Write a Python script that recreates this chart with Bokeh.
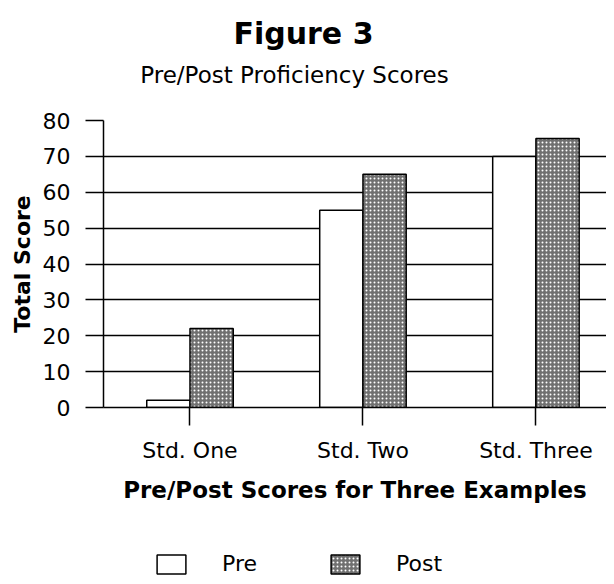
from bokeh.plotting import figure
from bokeh.layouts import column
from bokeh.models import Range1d, FixedTicker, Legend, LegendItem, Label
from bokeh.transform import dodge
from bokeh.embed import file_html
from bokeh.resources import INLINE

categories = ["Std. One", "Std. Two", "Std. Three"]
pre_scores = [2, 55, 70]
post_scores = [22, 65, 75]
y_ticks = [0, 10, 20, 30, 40, 50, 60, 70, 80]
series_names = ["Pre", "Post"]

positions = [i + 0.5 for i in range(len(categories))]
source = dict(x=positions, pre=pre_scores, post=post_scores)

FONT = "DejaVu Sans"
W = 606
PRE_STYLE = dict(fill_color="white", line_color="black", line_width=1.5)
POST_STYLE = dict(fill_color="#707070", line_color="black", line_width=1.5,
                  hatch_pattern="dot", hatch_color="white", hatch_scale=4, hatch_weight=1)


def blank_figure(height):
    f = figure(width=W, height=height, output_backend="svg", toolbar_location=None,
               title=None, x_axis_type=None, y_axis_type=None,
               x_range=Range1d(0, 1), y_range=Range1d(0, 1),
               min_border_left=0, min_border_right=0, min_border_top=0,
               min_border_bottom=0)
    f.outline_line_color = None
    f.background_fill_color = "white"
    f.border_fill_color = "white"
    f.grid.grid_line_color = None
    return f


# ---- title strip (its frame is aligned with the chart's frame, which starts at x=103) ----
TH = 100
head = blank_figure(TH)
head.add_layout(Label(x=200, y=TH - 33, x_units="screen", y_units="screen",
                      text="Figure 3", text_font=FONT, text_font_style="bold",
                      text_font_size="30px", text_align="center",
                      text_baseline="alphabetic", text_color="black"))
head.add_layout(Label(x=191, y=TH - 74, x_units="screen", y_units="screen",
                      text="Pre/Post Proficiency Scores", text_font=FONT,
                      text_font_size="23px", text_align="center",
                      text_baseline="alphabetic", text_color="black"))

# ---- main chart ----
p = figure(width=W, height=405, output_backend="svg", toolbar_location=None,
           title=None,
           x_range=Range1d(0, 2.908), y_range=Range1d(0, 80),
           min_border_left=103, min_border_right=0, min_border_top=20,
           min_border_bottom=0)
p.outline_line_color = None
p.background_fill_color = "white"
p.border_fill_color = "white"

p.vbar(x=dodge("x", -0.125, range=p.x_range), top="pre", width=0.25,
       source=source, **PRE_STYLE)
p.vbar(x=dodge("x", 0.125, range=p.x_range), top="post", width=0.25,
       source=source, **POST_STYLE)

p.xgrid.grid_line_color = None
p.ygrid.grid_line_color = "black"
p.ygrid.grid_line_width = 1.5
p.ygrid.ticker = FixedTicker(ticks=y_ticks)

p.yaxis.ticker = FixedTicker(ticks=y_ticks)
p.yaxis.axis_label = "Total Score"
p.yaxis.axis_label_text_font = FONT
p.yaxis.axis_label_text_font_style = "bold"
p.yaxis.axis_label_text_font_size = "22px"
p.yaxis.axis_label_text_color = "black"
p.yaxis.axis_label_standoff = 5
p.yaxis.major_label_text_font = FONT
p.yaxis.major_label_text_font_size = "22px"
p.yaxis.major_label_text_color = "black"
p.yaxis.major_label_standoff = 15
p.yaxis.major_tick_out = 18
p.yaxis.major_tick_in = 0
p.yaxis.minor_tick_line_color = None
p.yaxis.axis_line_color = "black"
p.yaxis.axis_line_width = 1.5
p.yaxis.major_tick_line_width = 1.5

p.xaxis.ticker = FixedTicker(ticks=positions)
p.xaxis.major_label_overrides = {pos: c for pos, c in zip(positions, categories)}
p.xaxis.axis_label = "Pre/Post Scores for Three Examples"
p.xaxis.axis_label_text_font = FONT
p.xaxis.axis_label_text_font_style = "bold"
p.xaxis.axis_label_text_font_size = "23px"
p.xaxis.axis_label_text_color = "black"
p.xaxis.axis_label_standoff = 11
p.xaxis.major_label_text_font = FONT
p.xaxis.major_label_text_font_size = "22px"
p.xaxis.major_label_text_color = "black"
p.xaxis.major_label_standoff = 12
p.xaxis.major_tick_out = 18
p.xaxis.major_tick_in = 0
p.xaxis.minor_tick_line_color = None
p.xaxis.axis_line_color = "black"
p.xaxis.axis_line_width = 1.5
p.xaxis.major_tick_line_width = 1.5

# ---- legend strip (hidden copies of the bar renderers supply the legend swatches) ----
leg = blank_figure(71)
pre_leg = leg.vbar(x="x", top="pre", width=0.25, source=source, visible=False, **PRE_STYLE)
post_leg = leg.vbar(x="x", top="post", width=0.25, source=source, visible=False, **POST_STYLE)
legend = Legend(items=[LegendItem(label=series_names[0], renderers=[pre_leg]),
                       LegendItem(label=series_names[1], renderers=[post_leg])],
                location=(50, 0), orientation="horizontal",
                glyph_width=36, glyph_height=24, label_standoff=33,
                label_width=105, spacing=0, padding=0, margin=0,
                label_text_font=FONT, label_text_font_size="22px",
                label_text_color="black", border_line_color=None,
                background_fill_alpha=0, inactive_fill_alpha=0)
leg.add_layout(legend, "center")

layout = column(head, p, leg, spacing=0)
open("out.html", "w").write(file_html(layout, INLINE))
